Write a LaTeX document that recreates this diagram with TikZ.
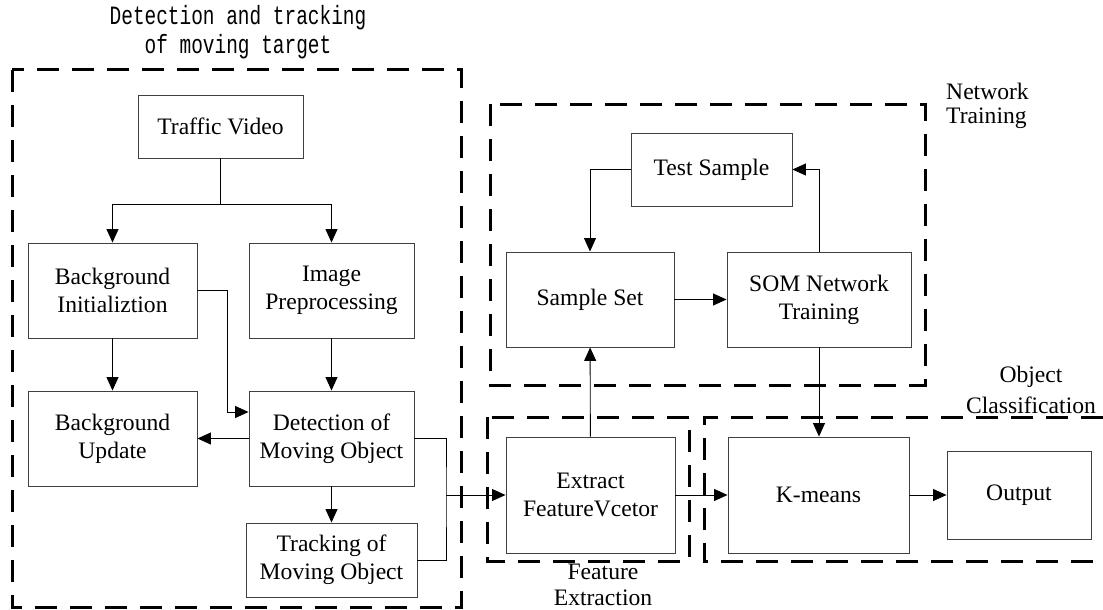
\documentclass[tikz,border=0pt]{standalone}
\usepackage{fontspec}
\usepackage{graphicx}
\setmainfont{Liberation Serif}
\newfontfamily\titlemono{Liberation Mono}
\usetikzlibrary{arrows.meta}
\tikzset{
  stepbox/.style={draw=black!75, line width=0.9pt, inner sep=0pt, align=center,
    font=\fontsize{23.6}{28}\selectfont},
  conn/.style={draw=black, line width=0.9pt},
  arr/.style={conn, -{Triangle[length=13.5pt,width=12pt]}},
  group/.style={draw=black, line width=3pt, dash pattern=on 22pt off 13pt},
  grouplabel/.style={inner sep=0pt, align=center, font=\fontsize{23.6}{28}\selectfont},
}
\begin{document}
\begin{tikzpicture}[x=1pt,y=-1pt]
\useasboundingbox (0,0) rectangle (1103,610);
% dashed groups
\draw[group] (12,70) rectangle (461,607);
\draw[group] (490,104) rectangle (925,385);
\draw[group] (487,417) rectangle (689,561);
\draw[group] (1103,417) -- (704,417) -- (704,561) -- (1103,561);
% group labels
\node[inner sep=0pt] (t1) at (238,18) {\titlemono\fontsize{24}{28}\selectfont\scalebox{0.81}[1.1]{Detection and tracking}};
\node[inner sep=0pt] (t2) at (238,47) {\titlemono\fontsize{24}{28}\selectfont\scalebox{0.81}[1.1]{of moving target}};
\node[grouplabel, anchor=west] (ntl) at (946,91) {Network};
\node[grouplabel, anchor=west] (ntl2) at (946,118) {Training};
\node[grouplabel] (ocl) at (1031,377) {Object};
\node[grouplabel] (ocl2) at (1031,405) {Classification};
\node[grouplabel] (fel) at (603,572) {Feature};
\node[grouplabel] (fel2) at (603,598) {Extraction};
% boxes
\node[stepbox, minimum width=165pt, minimum height=63pt] (tv) at (220.5,126.5) {Traffic Video};
\node[stepbox, minimum width=169pt, minimum height=95pt] (bi) at (112.5,290.5) {Background\\Initializtion};
\node[stepbox, minimum width=165pt, minimum height=95pt] (ip) at (331.5,290.5) {Image\\Preprocessing};
\node[stepbox, minimum width=169pt, minimum height=95pt] (bu) at (112.5,438.5) {Background\\Update};
\node[stepbox, minimum width=165pt, minimum height=95pt] (dm) at (331.5,438.5) {Detection of\\Moving Object};
\node[stepbox, minimum width=171pt, minimum height=74pt] (tm) at (331.5,560) {Tracking of\\Moving Object};
\node[stepbox, minimum width=161pt, minimum height=73pt] (ts) at (711.5,169.5) {Test Sample};
\node[stepbox, minimum width=168pt, minimum height=95pt] (ss) at (590,299.5) {Sample Set};
\node[stepbox, minimum width=184pt, minimum height=95pt] (som) at (819,299.5) {SOM Network\\Training};
\node[stepbox, minimum width=169pt, minimum height=116pt] (ef) at (590.5,495) {Extract\\FeatureVcetor};
\node[stepbox, minimum width=181pt, minimum height=116pt] (km) at (818.5,495) {K-means};
\node[stepbox, minimum width=144pt, minimum height=88pt] (out) at (1019,495) {Output};
% connectors
\coordinate (j1) at (220.5,204);
\draw[conn] (tv.south) -- (j1);
\draw[arr] (j1) -| (bi.north);
\draw[arr] (j1) -| (ip.north);
\coordinate (k1) at (227,412);
\draw[arr] (bi.east) -| (k1) -- (k1 -| dm.west);
\draw[arr] (bi) -- (bu);
\draw[arr] (ip) -- (dm);
\draw[arr] (dm.west) -- (bu.east);
\draw[arr] (dm) -- (tm);
\coordinate (k2) at (446,495);
\draw[conn] (dm.east) -| (k2) |- (tm.east);
\draw[arr] (k2) -- (ef.west);
\draw[arr] (ts.west) -| (ss.north);
\draw[arr] (ss) -- (som);
\draw[arr] (som.north) |- (ts.east);
\draw[arr] (som.south) -- (som.south |- km.north);
\draw[arr] (ef) -- (ss);
\draw[arr] (ef) -- (km);
\draw[arr] (km) -- (out);
\end{tikzpicture}
\end{document}
